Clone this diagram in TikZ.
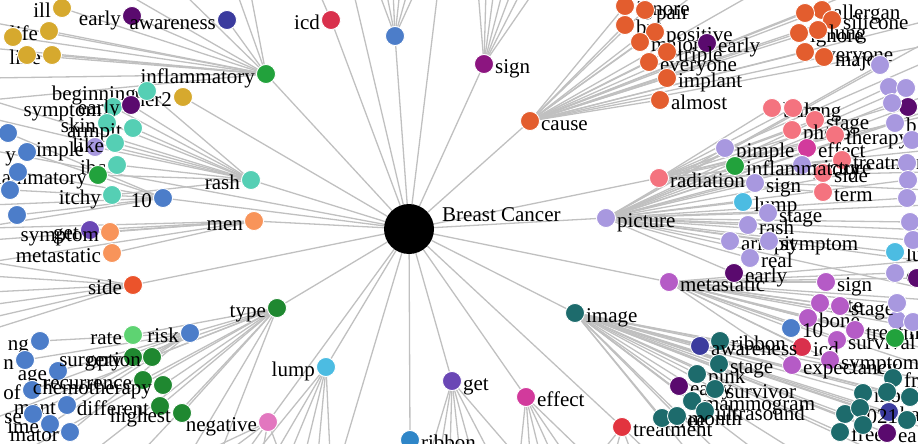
\documentclass[tikz,border=0pt]{standalone}
\usepackage{fontspec}
\setmainfont{Liberation Serif}
\usetikzlibrary{backgrounds}

\definecolor{edgegray}{HTML}{C0C0C0}
\definecolor{goldc}{HTML}{D6A92E}
\definecolor{tealc}{HTML}{55CFB4}
\definecolor{dpurp}{HTML}{5A0A6E}
\definecolor{navyc}{HTML}{3B3B9E}
\definecolor{icdc}{HTML}{D9304C}
\definecolor{bluec}{HTML}{4C7DC9}
\definecolor{signc}{HTML}{8C1580}
\definecolor{causec}{HTML}{E35D2E}
\definecolor{ingreen}{HTML}{22A23C}
\definecolor{typgreen}{HTML}{1F8830}
\definecolor{lgreenc}{HTML}{5ED372}
\definecolor{lavc}{HTML}{A898DF}
\definecolor{salmc}{HTML}{F4737F}
\definecolor{orchc}{HTML}{B55BC6}
\definecolor{magc}{HTML}{D23A9C}
\definecolor{dtealc}{HTML}{1D6B6C}
\definecolor{lbluec}{HTML}{4CBCE2}
\definecolor{menc}{HTML}{F8945A}
\definecolor{sidec}{HTML}{EB532B}
\definecolor{getc}{HTML}{6A47B5}
\definecolor{pinkc}{HTML}{E277BF}
\definecolor{ribc}{HTML}{2E86C8}
\definecolor{treatc}{HTML}{E2343F}

\begin{document}
\begin{tikzpicture}[x=1pt, y=-1pt,
    dot/.style={circle, fill=#1, draw=white, line width=0.8pt,
      minimum size=19pt, inner sep=0pt},
    lbl/.style={font=\fontsize{21}{21}\selectfont, inner sep=0pt,
      text height=19pt, text depth=0pt},
    edge/.style={draw=edgegray, line width=1.3pt},
    label distance=1pt]

    \useasboundingbox (0,0) rectangle (918,444);

    % Breast Cancer in the middle
    \node[circle, fill=black, minimum size=50pt, inner sep=0pt] (bc) at (409,229) {};
    \node[lbl, anchor=base west] (bctext) at (442,221) {Breast Cancer};

    % words with the label on the left
    \foreach \n/\x/\y/\col/\w in {
        icdA/331/20/icdc/icd, infl/266/74/ingreen/inflammatory,
        rash/251/180/tealc/rash, ten/163/198/bluec/10,
        men/254/221/menc/men, side/133/285/sidec/side,
        type/277/308/typgreen/type, lump/326/367/lbluec/lump,
        neg/268/422/pinkc/negative, her2/183/97/goldc/her2,
        earlyA/132/16/dpurp/early, awareA/227/20/navyc/awareness,
        goldA/62/8/goldc/ill, goldB/49/31/goldc/life, goldD/52/55/goldc/line,
        begin/147/91/tealc/beginning, tealA/113/107/tealc/symptom,
        earlyB/131/105/dpurp/early, skin/107/123/tealc/skin,
        armpit/133/128/tealc/armpit, pimpleA/95/147/lavc/pimple,
        likeA/115/143/tealc/like, ibc/117/165/tealc/ibc,
        inflB/98/175/ingreen/inflammatory, itchy/112/195/tealc/itchy,
        blueB/27/152/bluec/y,
        getB/90/230/getc/get, symB/110/232/menc/symptom,
        metB/112/253/menc/metastatic,
        rate/133/335/lgreenc/rate, risk/190/333/bluec/risk,
        blueF/40/341/bluec/ng, blueG/25/360/bluec/n, blueH/58/371/bluec/age,
        surgery/133/357/typgreen/surgery, option/152/357/typgreen/option,
        blueI/32/390/bluec/of, recur/143/380/typgreen/recurrence,
        chemo/163/385/typgreen/chemotherapy, blueJ/67/405/bluec/ment,
        blueK/33/414/bluec/se, diff/160/406/typgreen/different,
        high/182/413/typgreen/highest, blueL/50/424/bluec/ime,
        blueM/70/432/bluec/mator}
        \node[dot=\col, label={[lbl]left:\w}] (\n) at (\x,\y) {};

    % words with the label on the right
    \foreach \n/\x/\y/\col/\w in {
        sign/484/64/signc/sign, cause/530/121/causec/cause,
        get/452/381/getc/get, effect/526/397/magc/effect,
        image/575/313/dtealc/image, ribbon/410/440/ribc/ribbon,
        picture/606/218/lavc/picture, radiation/659/178/salmc/radiation,
        metast/669/282/orchc/metastatic, treat/622/427/treatc/treatment,
        ignoreA/625/6/causec/ignore, pairA/645/10/causec/pair,
        bra/625/25/causec/bra, positive/655/32/causec/positive,
        majorA/640/42/causec/major, earlyC/707/43/dpurp/early,
        triple/667/52/causec/triple, everyA/649/62/causec/everyone,
        implant/667/78/causec/implant, almost/660/100/causec/almost,
        allergan/822/10/causec/allergan, silicone/832/20/causec/silicone,
        ignoreB/799/33/causec/ignore, lung/818/30/causec/lung,
        everyB/805/52/causec/everyone, majorB/824/57/causec/major,
        burn/772/108/salmc/burn, long/793/108/salmc/long,
        stageR/815/120/salmc/stage, photo/792/130/salmc/photo,
        therapy/835/135/salmc/therapy, effectR/807/148/magc/effect,
        treatR/842/160/salmc/treatment, picP/802/165/lavc/picture,
        sideR/823/173/salmc/side, term/823/192/salmc/term,
        pimpleP/725/148/lavc/pimple, inflP/735/166/ingreen/inflammatory,
        signP/755/183/lavc/sign, lumpP/743/202/lbluec/lump,
        stageP/768/213/lavc/stage, rashP/748/225/lavc/rash,
        armpitP/730/241/lavc/armpit, sympP/769/241/lavc/symptom,
        realP/750/258/lavc/real, earlyP/734/273/dpurp/early,
        dp1/908/107/dpurp/ra, lav4/895/123/lavc/b, lb1/895/252/lbluec/lu,
        lav11/895/273/lavc/c, lav13/897/320/lavc/ra,
        signM/826/282/orchc/sign, rateM/820/303/orchc/rate,
        stageM/840/306/orchc/stage, boneM/808/318/orchc/bone,
        tenM/791/328/bluec/10, treatM/855/330/orchc/treatment,
        survM/837/340/orchc/survival, icdM/802/347/icdc/icd,
        sympM/830/360/orchc/symptom, expM/792/365/orchc/expectancy,
        ribbonI/720/341/dtealc/ribbon, awareI/700/346/navyc/awareness,
        stageI/719/364/dtealc/stage, pinkI/697/374/dtealc/pink,
        earlyI/679/386/dpurp/early, survI/715/389/dtealc/survivor,
        mammo/692/401/dtealc/mammogram, ultra/705/411/dtealc/ultrasound,
        freeI/662/418/dtealc/free, monthI/677/416/dtealc/month,
        frI/893/378/dtealc/fr, monthJ/863/393/dtealc/month,
        backI/889/412/navyc/back, y2021/845/414/dtealc/2021,
        freeJ/840/432/dtealc/free, dp3/887/433/dpurp/ea, t5/907/420/dtealc/u}
        \node[dot=\col, label={[lbl]right:\w}] (\n) at (\x,\y) {};

    % dots without a readable word
    \foreach \n/\x/\y/\col in {
        bluetop/395/36/bluec, goldC/13/37/goldc, goldE/27/55/goldc,
        blueA/8/133/bluec, blueC/18/172/bluec, blueD/10/190/bluec,
        blueE/17/215/bluec, oA/805/13/causec, lavA/880/65/lavc,
        lav1/889/87/lavc, lav2/906/88/lavc, lav3/892/103/lavc,
        lav5/912/140/lavc, lav6/907/163/lavc, lav7/908/180/lavc,
        lav8/907/198/lavc, lav9/910/222/lavc, lav10/913/240/lavc,
        lav12/897/303/lavc, lav14/913/322/lavc, dp2/917/278/dpurp,
        green1/895/338/ingreen, t1/887/392/dtealc, t2/860/408/dtealc,
        t3/910/397/dtealc, t4/863/425/dtealc}
        \node[dot=\col] (\n) at (\x,\y) {};

    \begin{scope}[on background layer]
        % spokes of Breast Cancer
        \foreach \m in {icdA,bluetop,sign,cause,infl,her2,rash,ten,men,side,type,
            lump,neg,ribbon,get,effect,treat,image,metast,picture,radiation}
            \draw[edge] (bc) -- (\m);

        % second ring
        \foreach \m in {earlyA,awareA,goldA,goldB,goldC,goldD,goldE}
            \draw[edge] (infl) -- (\m);
        \foreach \m in {begin,tealA,earlyB,skin,armpit,pimpleA,likeA,ibc,inflB,itchy}
            \draw[edge] (rash) -- (\m);
        \foreach \m in {blueA,blueB,blueC,blueD,blueE}
            \draw[edge] (ten) -- (\m);
        \foreach \m in {getB,symB,metB}
            \draw[edge] (men) -- (\m);
        \foreach \m in {rate,risk,surgery,option,recur,chemo,diff,high}
            \draw[edge] (type) -- (\m);
        \foreach \m in {blueF,blueG,blueH,blueI,blueJ,blueK,blueL,blueM}
            \draw[edge] (risk) -- (\m);
        \foreach \m in {ignoreA,pairA,bra,positive,majorA,earlyC,triple,everyA,
            implant,almost,oA,allergan,silicone,ignoreB,lung,everyB,majorB}
            \draw[edge] (cause) -- (\m);
        \foreach \m in {burn,long,stageR,photo,therapy,effectR,treatR,sideR,term}
            \draw[edge] (radiation) -- (\m);
        \foreach \m in {pimpleP,inflP,picP,signP,lumpP,stageP,rashP,armpitP,sympP,
            realP,earlyP,lavA,lav1,lav2,lav3,dp1,lav4,lav5,lav6,lav7,lav8,lav9,
            lav10,lb1}
            \draw[edge] (picture) -- (\m);
        \foreach \m in {signM,rateM,stageM,boneM,tenM,treatM,survM,icdM,sympM,
            expM,lav11,dp2,lav12,lav13,lav14,green1}
            \draw[edge] (metast) -- (\m);
        \foreach \m in {ribbonI,awareI,stageI,pinkI,earlyI,survI,mammo,ultra,
            freeI,monthI,frI,monthJ,t1,t2,t3,backI,y2021,t4,freeJ,dp3,t5}
            \draw[edge] (image) -- (\m);

        % lines to words outside the picture
        \foreach \p/\x/\y [count=\i] in {
            bc/353/-10, bc/438/-10, bc/342/454, bc/-10/150,
            infl/-10/22, infl/-10/48, infl/-10/78, infl/-10/100,
            infl/180/-10, infl/236/-10, infl/250/-10, infl/120/-10,
            icdA/318/-10,
            bluetop/378/-10, bluetop/386/-10, bluetop/393/-10,
            bluetop/400/-10, bluetop/408/-10, bluetop/416/-10,
            sign/478/-10, sign/486/-10, sign/494/-10, sign/503/-10,
            sign/512/-10, sign/522/-10, sign/535/-10,
            rash/-10/100, rash/-10/118, ten/-10/205, ten/-10/226,
            men/-10/240, men/-10/228, men/-10/262,
            side/-10/262, side/-10/276, side/-10/292, side/-10/305,
            side/-10/318, side/-10/330,
            type/-10/420, type/20/454, type/90/454, type/140/454,
            type/190/454, type/220/454,
            lump/255/454, lump/275/454, lump/290/454, lump/305/454,
            lump/318/454, lump/330/454,
            neg/200/454, neg/225/454, neg/245/454, neg/262/454, neg/280/454,
            ribbon/405/454, ribbon/415/454,
            get/430/454, get/440/454, get/450/454, get/460/454,
            get/472/454, get/490/454, get/515/454,
            effect/520/454, effect/530/454, effect/540/454, effect/552/454,
            effect/565/454, effect/585/454,
            treat/600/454, treat/615/454, treat/632/454, treat/650/454,
            cause/700/-10, cause/760/-10, cause/860/-10, cause/930/20,
            cause/930/45,
            radiation/930/60, radiation/930/95, radiation/930/115,
            radiation/930/150, radiation/930/172, radiation/930/190,
            picture/930/40, picture/930/110, picture/930/205,
            picture/930/230, picture/930/262, picture/930/290,
            metast/930/300, metast/930/330, metast/930/350, metast/930/368,
            metast/930/260,
            image/930/380, image/930/405, image/930/430, image/880/454,
            image/800/454, image/760/454, image/720/454, image/690/454}{
            \coordinate (out\i) at (\x,\y);
            \draw[edge] (\p) -- (out\i);
        }
    \end{scope}
\end{tikzpicture}
\end{document}
